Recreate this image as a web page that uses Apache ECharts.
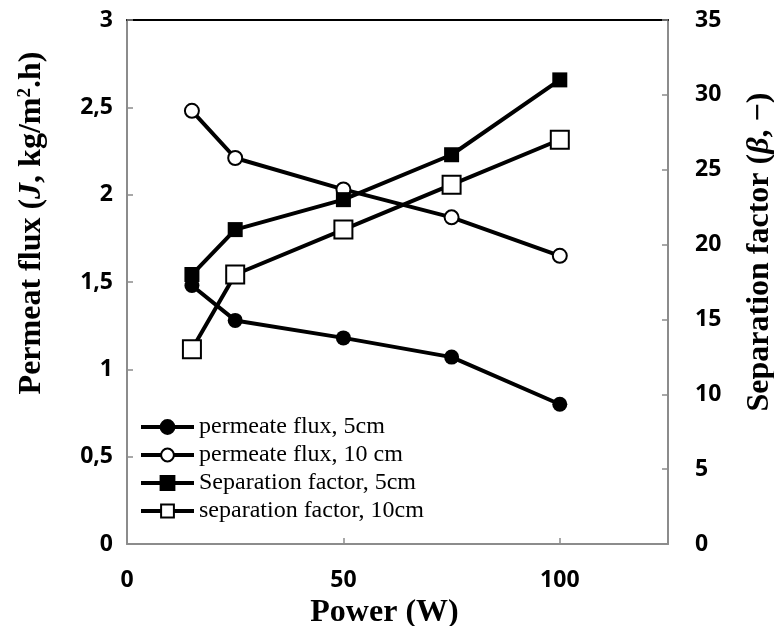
<!DOCTYPE html>
<html>
<head>
<meta charset="utf-8">
<script src="https://cdn.jsdelivr.net/npm/echarts@6/dist/echarts.min.js"></script>
<style>
  html, body { margin: 0; padding: 0; background: #fff; }
  #chart { width: 774px; height: 626px; }
</style>
</head>
<body>
<div id="chart"></div>
<script>
// Microwave power levels (W)
const power = [15, 25, 50, 75, 100];

// Permeate flux, kg/m2.h (left axis)
const fluxFiveCm = [1.48, 1.28, 1.18, 1.07, 0.80];
const fluxTenCm = [2.48, 2.21, 2.03, 1.87, 1.65];

// Separation factor (right axis)
const sepFiveCm = [18, 21, 23, 26, 31];
const sepTenCm = [13, 18, 21, 24, 27];

const seriesNames = [
  'permeate flux, 5cm',
  'permeate flux, 10 cm',
  'Separation factor, 5cm',
  'separation factor, 10cm'
];

const axisGrey = '#8c8c8c';
const tickFont = { fontFamily: 'Open Sans', fontWeight: 'bold', fontSize: 23, color: '#000' };
const titleFont = { fontFamily: 'Liberation Serif', fontWeight: 'bold', fontSize: 32, color: '#000' };

const pairs = (xs, ys) => xs.map((x, i) => [x, ys[i]]);
const decimalComma = v => String(v).replace('.', ',');

function lineSeries(name, data, yAxisIndex, symbol, size) {
  const hollow = symbol.startsWith('empty');
  return {
    name, type: 'line', data, yAxisIndex,
    symbol, symbolSize: size,
    lineStyle: { color: '#000', width: 4 },
    itemStyle: { color: '#000', borderColor: '#000', borderWidth: hollow ? 3 : 0 },
    emphasis: { disabled: true },
    z: 3
  };
}

const chart = echarts.init(document.getElementById('chart'), null, { renderer: 'canvas' });
chart.setOption({
  animation: false,
  backgroundColor: '#fff',
  grid: { left: 127, right: 106, top: 20, bottom: 82, containLabel: false, outerBoundsMode: 'none' },
  legend: {
    orient: 'vertical',
    left: 139, top: 415, padding: 0,
    itemWidth: 53, itemHeight: 16, itemGap: 4,
    lineStyle: { width: 4, color: '#000' },
    itemStyle: { borderWidth: 3, borderColor: '#000' },
    textStyle: { fontFamily: 'Liberation Serif', fontSize: 24, color: '#000' },
    data: seriesNames
  },
  xAxis: [{
    type: 'value', min: 0, max: 125, interval: 50,
    name: 'Power (W)', nameLocation: 'middle', nameGap: 40,
    nameTextStyle: Object.assign({ padding: [0, 26, 0, 0] }, titleFont),
    axisLine: { onZero: false, lineStyle: { color: axisGrey, width: 2 } },
    axisTick: { inside: true, length: 6, lineStyle: { color: axisGrey, width: 1.5 } },
    axisLabel: Object.assign({ margin: 25, showMaxLabel: false }, tickFont),
    splitLine: { show: false }
  }, {
    type: 'value', min: 0, max: 125, position: 'top',
    axisLine: { show: true, onZero: false, lineStyle: { color: '#000', width: 2 } },
    axisTick: { show: false }, axisLabel: { show: false }, splitLine: { show: false }
  }],
  yAxis: [{
    type: 'value', min: 0, max: 3, interval: 0.5, position: 'left',
    name: '{b|Permeat flux (}{i|J}{b|, kg/m}{s|2}{b|.h)}',
    nameLocation: 'middle', nameRotate: 90, nameGap: 79,
    nameTextStyle: {
      padding: [0, 0, 0, 118],
      rich: {
        b: titleFont,
        i: Object.assign({ fontStyle: 'italic' }, titleFont),
        s: Object.assign({}, titleFont, { fontSize: 19, verticalAlign: 'top', padding: [0, 0, 12, 0] })
      }
    },
    axisLine: { show: true, onZero: false, lineStyle: { color: axisGrey, width: 2 } },
    axisTick: { show: true, inside: true, length: 6, lineStyle: { color: axisGrey, width: 1.5 } },
    axisLabel: Object.assign({ margin: 14, formatter: decimalComma }, tickFont),
    splitLine: { show: false }
  }, {
    type: 'value', min: 0, max: 35, interval: 5, position: 'right',
    name: '{b|Separation factor (}{i|β}{b|, −)}',
    nameLocation: 'middle', nameRotate: 90, nameGap: 76,
    nameTextStyle: {
      padding: [0, 0, 0, 60],
      rich: {
        b: titleFont,
        i: Object.assign({ fontStyle: 'italic' }, titleFont)
      }
    },
    axisLine: { show: true, onZero: false, lineStyle: { color: axisGrey, width: 2 } },
    axisTick: { show: true, inside: true, length: 6, lineStyle: { color: axisGrey, width: 1.5 } },
    axisLabel: Object.assign({ margin: 27 }, tickFont),
    splitLine: { show: false }
  }],
  series: [
    lineSeries(seriesNames[0], pairs(power, fluxFiveCm), 0, 'circle', 15),
    lineSeries(seriesNames[1], pairs(power, fluxTenCm), 0, 'emptyCircle', 14),
    lineSeries(seriesNames[2], pairs(power, sepFiveCm), 1, 'rect', 15),
    lineSeries(seriesNames[3], pairs(power, sepTenCm), 1, 'emptyRect', 18)
  ]
});
</script>
</body>
</html>
